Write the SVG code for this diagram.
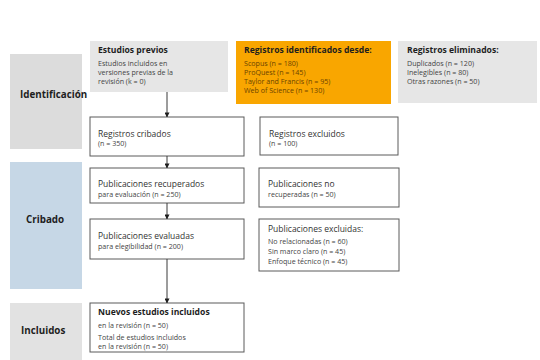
<svg xmlns="http://www.w3.org/2000/svg" width="540" height="360" viewBox="0 0 540 360">
<style>
text{font-family:"Open Sans","Noto Sans","DejaVu Sans",sans-serif;}
.phase{font-weight:bold;font-size:9.8px;fill:#1e1e1e;}
.ttl{font-weight:bold;font-size:8.6px;fill:#1e1e1e;}
.big{font-size:8.5px;fill:#333;}
.sm{font-size:7.1px;fill:#444;}
.box{fill:#fff;stroke:#5a5a5a;stroke-width:1;}
.org{font-size:7.1px;fill:#6b4400;}
.con{stroke:#3a3a3a;stroke-width:1;fill:none;marker-end:url(#ah);}
</style>
<defs>
<marker id="ah" viewBox="0 0 6 6" refX="5.5" refY="3" markerWidth="5" markerHeight="5" orient="auto" markerUnits="userSpaceOnUse">
<path d="M0,0 L6,3 L0,6 z" fill="#1e1e1e"/>
</marker>
</defs>
<rect width="540" height="360" fill="#fff"/>
<g id="phase-identificacion">
<rect x="10" y="54" width="72" height="95" fill="#dcdcdc"/>
<text class="phase" x="20" y="98">Identificación</text>
</g>
<g id="phase-cribado">
<rect x="10" y="162" width="72" height="127" fill="#c6d7e6"/>
<text class="phase" x="26" y="223">Cribado</text>
</g>
<g id="phase-incluidos">
<rect x="10" y="303" width="72" height="57" fill="#e2e2e2"/>
<text class="phase" x="21" y="334">Incluidos</text>
</g>
<g id="estudios-previos">
<rect x="90" y="41" width="138" height="51" fill="#e6e6e6"/>
<text class="ttl" x="98" y="53">Estudios previos</text>
<text class="sm" x="98" y="66">Estudios incluidos en</text>
<text class="sm" x="98" y="75">versiones previas de la</text>
<text class="sm" x="98" y="84">revisión (k = 0)</text>
</g>
<g id="registros-identificados">
<rect x="236" y="41" width="155" height="63" fill="#f9a600"/>
<text class="ttl" x="244" y="53">Registros identificados desde:</text>
<text class="org" x="244" y="66">Scopus (n = 180)</text>
<text class="org" x="244" y="75">ProQuest (n = 145)</text>
<text class="org" x="244" y="84">Taylor and Francis (n = 95)</text>
<text class="org" x="244" y="93">Web of Science (n = 130)</text>
</g>
<g id="registros-eliminados">
<rect x="398" y="41" width="139" height="62" fill="#e6e6e6"/>
<text class="ttl" x="407" y="53">Registros eliminados:</text>
<text class="sm" x="407" y="66">Duplicados (n = 120)</text>
<text class="sm" x="407" y="75">Inelegibles (n = 80)</text>
<text class="sm" x="407" y="84">Otras razones (n = 50)</text>
</g>
<g id="registros-cribados">
<rect class="box" x="90" y="117" width="154" height="39"/>
<text class="big" x="98" y="137">Registros cribados</text>
<text class="sm" x="98" y="146">(n = 350)</text>
</g>
<g id="registros-excluidos">
<rect class="box" x="260" y="117" width="138" height="38"/>
<text class="big" x="269" y="137">Registros excluidos</text>
<text class="sm" x="269" y="146">(n = 100)</text>
</g>
<g id="publicaciones-recuperados">
<rect class="box" x="90" y="168" width="154" height="35"/>
<text class="big" x="98" y="187">Publicaciones recuperados</text>
<text class="sm" x="98" y="197">para evaluación (n = 250)</text>
</g>
<g id="publicaciones-no">
<rect class="box" x="259" y="168" width="140" height="39"/>
<text class="big" x="268" y="187">Publicaciones no</text>
<text class="sm" x="268" y="197">recuperadas (n = 50)</text>
</g>
<g id="publicaciones-evaluadas">
<rect class="box" x="90" y="219" width="154" height="40"/>
<text class="big" x="98" y="239">Publicaciones evaluadas</text>
<text class="sm" x="98" y="249">para elegibilidad (n = 200)</text>
</g>
<g id="publicaciones-excluidas">
<rect class="box" x="259" y="219" width="140" height="52"/>
<text class="big" x="268" y="232">Publicaciones excluidas:</text>
<text class="sm" x="268" y="244">No relacionadas (n = 60)</text>
<text class="sm" x="268" y="254">Sin marco claro (n = 45)</text>
<text class="sm" x="268" y="264">Enfoque técnico (n = 45)</text>
</g>
<g id="nuevos-estudios">
<rect class="box" x="90" y="303" width="154" height="49"/>
<text class="ttl" x="98" y="315">Nuevos estudios incluidos</text>
<text class="sm" x="98" y="328">en la revisión (n = 50)</text>
<text class="sm" x="98" y="340">Total de estudios incluidos</text>
<text class="sm" x="98" y="349">en la revisión (n = 50)</text>
</g>
<g id="connectors">
<line class="con" x1="167" y1="92" x2="167" y2="117"/>
<line class="con" x1="167" y1="156" x2="167" y2="168"/>
<line class="con" x1="167" y1="203" x2="167" y2="219"/>
<line class="con" x1="167" y1="259" x2="167" y2="303"/>
</g>
</svg>
